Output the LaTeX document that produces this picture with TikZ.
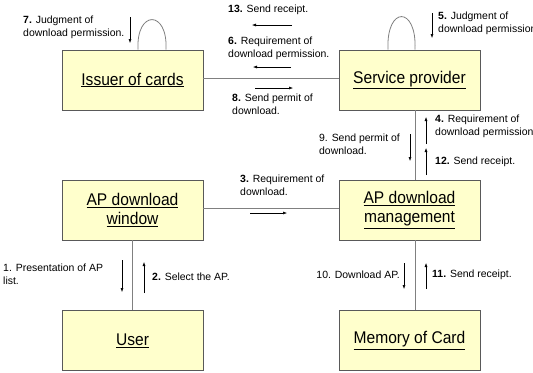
\documentclass[tikz,border=0pt]{standalone}
\usepackage{fontspec}
\setmainfont{Liberation Sans}
\newfontfamily\boxfont{Liberation Sans}[FakeStretch=0.92]
\usepackage{tikz}
\usetikzlibrary{calc, positioning, arrows.meta}
\definecolor{cardyellow}{rgb}{1, 1, 0.8}
\definecolor{edgegray}{rgb}{0.35, 0.35, 0.35}
\definecolor{linegray}{rgb}{0.5, 0.5, 0.5}

\begin{document}
\begin{tikzpicture}[x=1bp, y=-1bp,
	card/.style={draw=edgegray, fill=cardyellow, line width=0.8bp, minimum width=141bp, minimum height=60bp, inner sep=0pt, align=center, font=\boxfont\fontsize{17}{19}\selectfont},
	msg/.style={inner sep=0pt, align=left, font=\fontsize{10.5}{12.5}\selectfont},
	link/.style={draw=linegray, line width=0.8bp},
	flow/.style={-{Latex[length=4bp, width=3bp]}, line width=0.5bp}]
	\useasboundingbox (0,0) rectangle (533,372);
	% parties
	\node[card] (issuer) at (132.5,80) {\underline{Issuer of cards}};
	\node[card] (sp) at (409.5,80) {\underline{Service provider}};
	\node[card] (win) at (132.5,210) {\underline{AP download}\\\underline{window}};
	\node[card] (mgmt) at (409.5,210) {\underline{AP download}\\\underline{management}};
	\node[card] (user) at (132.5,340.5) {\underline{User}};
	\node[card] (mem) at (409.5,340.5) {\underline{Memory of Card}};
	% connectors
	\draw[link] ([yshift=2bp]issuer.east) -- ([yshift=2bp]sp.west);
	\draw[link] ([yshift=2bp]win.east) -- ([yshift=2bp]mgmt.west);
	\draw[link] (win.south) -- (user.north);
	\draw[link] ([xshift=6bp]sp.south) -- ([xshift=6bp]mgmt.north);
	\draw[link] ([xshift=6bp]mgmt.south) -- ([xshift=6bp]mem.north);
	\draw[link] ([xshift=5.5bp]issuer.north) .. controls ([xshift=3.5bp,yshift=40bp]issuer.north) and ([xshift=35.5bp,yshift=40bp]issuer.north) .. ([xshift=33.5bp]issuer.north);
	\draw[link] ([xshift=-21.5bp]sp.north) .. controls ([xshift=-23.5bp,yshift=44bp]sp.north) and ([xshift=7.5bp,yshift=44bp]sp.north) .. ([xshift=5.5bp]sp.north);
	% messages
	\node[msg, anchor=west] (m13) at (228,10) {\textbf{13.} Send receipt.};
	\draw[flow] (292,25) -- (252,25);
	\node[msg, anchor=north west] (m6) at (228,37) {\textbf{6.} Requirement of\\download permission.};
	\draw[flow] (291,67) -- (253,67);
	\draw[flow] (255,88) -- (293,88);
	\node[msg, anchor=north west] (m8) at (232,94) {\textbf{8.} Send permit of\\download.};
	\node[msg, anchor=north west] (m7) at (23,16) {\textbf{7.} Judgment of\\download permission.};
	\draw[flow] (130,17) -- (130,43);
	\node[msg, anchor=north west] (m5) at (438,12) {\textbf{5.} Judgment of\\download permission};
	\draw[flow] (432,13) -- (432,38);
	\node[msg, anchor=north west] (m4) at (435,115) {\textbf{4.} Requirement of\\download permission};
	\draw[flow] (426,144) -- (426,117);
	\node[msg, anchor=west] (m12) at (435,162) {\textbf{12.} Send receipt.};
	\draw[flow] (426,175) -- (426,148);
	\node[msg, anchor=north east] (m9) at (400,134) {9. Send permit of\\download.};
	\draw[flow] (410,134) -- (410,161);
	\node[msg, anchor=north west] (m3) at (240,175) {\textbf{3.} Requirement of\\download.};
	\draw[flow] (250,213) -- (287,213);
	\node[msg, anchor=north west] (m1) at (3,264) {1. Presentation of AP\\list.};
	\draw[flow] (122,260) -- (122,292);
	\node[msg, anchor=west] (m2) at (152,277) {\textbf{2.} Select the AP.};
	\draw[flow] (144,293) -- (144,262);
	\node[msg, anchor=east] (m10) at (400,275) {10. Download AP.};
	\draw[flow] (404,263) -- (404,289);
	\node[msg, anchor=west] (m11) at (432,275) {\textbf{11.} Send receipt.};
	\draw[flow] (426,289) -- (426,263);
\end{tikzpicture}
\end{document}
